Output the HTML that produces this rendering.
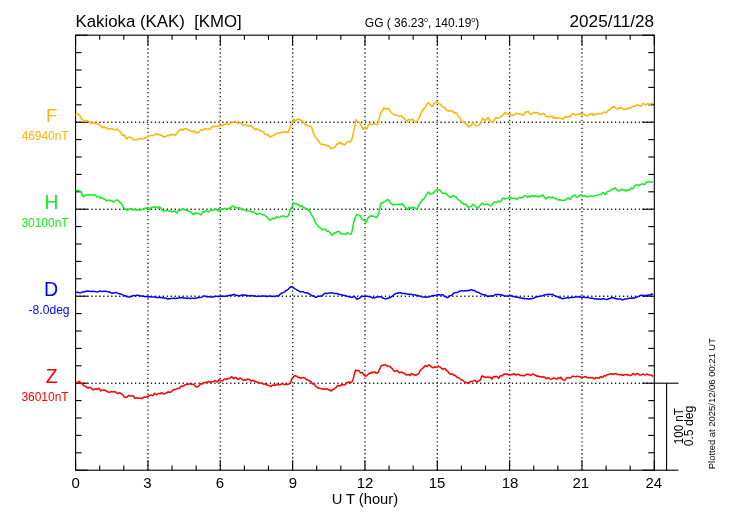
<!DOCTYPE html>
<html><head><meta charset="utf-8"><style>
html,body{margin:0;padding:0;background:#fff;width:730px;height:520px;overflow:hidden}
svg{display:block;will-change:transform}
text{font-family:"Liberation Sans", sans-serif}
.frame{fill:none;stroke:#000;stroke-width:1.1}
.tk{stroke:#000;stroke-width:1.1}
.dot{stroke:#262626;stroke-width:1.35;stroke-dasharray:1.35 2.618;stroke-dashoffset:2.742}
.doth{stroke:#262626;stroke-width:1.35;stroke-dasharray:1.35 2.617;stroke-dashoffset:0.183}
.crv{fill:none;stroke-width:1.5;stroke-linejoin:round}
</style></head><body>
<svg width="730" height="520" viewBox="0 0 730 520">
<rect width="730" height="520" fill="#fff"/>
<line x1="147.94" y1="35.2" x2="147.94" y2="470.19999999999993" class="dot"/>
<line x1="220.27" y1="35.2" x2="220.27" y2="470.19999999999993" class="dot"/>
<line x1="292.61" y1="35.2" x2="292.61" y2="470.19999999999993" class="dot"/>
<line x1="364.95" y1="35.2" x2="364.95" y2="470.19999999999993" class="dot"/>
<line x1="437.29" y1="35.2" x2="437.29" y2="470.19999999999993" class="dot"/>
<line x1="509.62" y1="35.2" x2="509.62" y2="470.19999999999993" class="dot"/>
<line x1="581.96" y1="35.2" x2="581.96" y2="470.19999999999993" class="dot"/>
<line x1="75.6" y1="122.20" x2="654.3" y2="122.20" class="doth"/>
<line x1="75.6" y1="209.20" x2="654.3" y2="209.20" class="doth"/>
<line x1="75.6" y1="296.20" x2="654.3" y2="296.20" class="doth"/>
<line x1="75.6" y1="383.20" x2="654.3" y2="383.20" class="doth"/>
<rect x="75.6" y="35.2" width="578.70" height="435.00" class="frame"/>
<line x1="75.6" y1="35.20" x2="87.6" y2="35.20" class="tk"/>
<line x1="654.3" y1="35.20" x2="642.3" y2="35.20" class="tk"/>
<line x1="75.6" y1="52.60" x2="81.6" y2="52.60" class="tk"/>
<line x1="654.3" y1="52.60" x2="648.3" y2="52.60" class="tk"/>
<line x1="75.6" y1="70.00" x2="81.6" y2="70.00" class="tk"/>
<line x1="654.3" y1="70.00" x2="648.3" y2="70.00" class="tk"/>
<line x1="75.6" y1="87.40" x2="81.6" y2="87.40" class="tk"/>
<line x1="654.3" y1="87.40" x2="648.3" y2="87.40" class="tk"/>
<line x1="75.6" y1="104.80" x2="81.6" y2="104.80" class="tk"/>
<line x1="654.3" y1="104.80" x2="648.3" y2="104.80" class="tk"/>
<line x1="75.6" y1="122.20" x2="87.6" y2="122.20" class="tk"/>
<line x1="654.3" y1="122.20" x2="642.3" y2="122.20" class="tk"/>
<line x1="75.6" y1="139.60" x2="81.6" y2="139.60" class="tk"/>
<line x1="654.3" y1="139.60" x2="648.3" y2="139.60" class="tk"/>
<line x1="75.6" y1="157.00" x2="81.6" y2="157.00" class="tk"/>
<line x1="654.3" y1="157.00" x2="648.3" y2="157.00" class="tk"/>
<line x1="75.6" y1="174.40" x2="81.6" y2="174.40" class="tk"/>
<line x1="654.3" y1="174.40" x2="648.3" y2="174.40" class="tk"/>
<line x1="75.6" y1="191.80" x2="81.6" y2="191.80" class="tk"/>
<line x1="654.3" y1="191.80" x2="648.3" y2="191.80" class="tk"/>
<line x1="75.6" y1="209.20" x2="87.6" y2="209.20" class="tk"/>
<line x1="654.3" y1="209.20" x2="642.3" y2="209.20" class="tk"/>
<line x1="75.6" y1="226.60" x2="81.6" y2="226.60" class="tk"/>
<line x1="654.3" y1="226.60" x2="648.3" y2="226.60" class="tk"/>
<line x1="75.6" y1="244.00" x2="81.6" y2="244.00" class="tk"/>
<line x1="654.3" y1="244.00" x2="648.3" y2="244.00" class="tk"/>
<line x1="75.6" y1="261.40" x2="81.6" y2="261.40" class="tk"/>
<line x1="654.3" y1="261.40" x2="648.3" y2="261.40" class="tk"/>
<line x1="75.6" y1="278.80" x2="81.6" y2="278.80" class="tk"/>
<line x1="654.3" y1="278.80" x2="648.3" y2="278.80" class="tk"/>
<line x1="75.6" y1="296.20" x2="87.6" y2="296.20" class="tk"/>
<line x1="654.3" y1="296.20" x2="642.3" y2="296.20" class="tk"/>
<line x1="75.6" y1="313.60" x2="81.6" y2="313.60" class="tk"/>
<line x1="654.3" y1="313.60" x2="648.3" y2="313.60" class="tk"/>
<line x1="75.6" y1="331.00" x2="81.6" y2="331.00" class="tk"/>
<line x1="654.3" y1="331.00" x2="648.3" y2="331.00" class="tk"/>
<line x1="75.6" y1="348.40" x2="81.6" y2="348.40" class="tk"/>
<line x1="654.3" y1="348.40" x2="648.3" y2="348.40" class="tk"/>
<line x1="75.6" y1="365.80" x2="81.6" y2="365.80" class="tk"/>
<line x1="654.3" y1="365.80" x2="648.3" y2="365.80" class="tk"/>
<line x1="75.6" y1="383.20" x2="87.6" y2="383.20" class="tk"/>
<line x1="654.3" y1="383.20" x2="642.3" y2="383.20" class="tk"/>
<line x1="75.6" y1="400.60" x2="81.6" y2="400.60" class="tk"/>
<line x1="654.3" y1="400.60" x2="648.3" y2="400.60" class="tk"/>
<line x1="75.6" y1="418.00" x2="81.6" y2="418.00" class="tk"/>
<line x1="654.3" y1="418.00" x2="648.3" y2="418.00" class="tk"/>
<line x1="75.6" y1="435.40" x2="81.6" y2="435.40" class="tk"/>
<line x1="654.3" y1="435.40" x2="648.3" y2="435.40" class="tk"/>
<line x1="75.6" y1="452.80" x2="81.6" y2="452.80" class="tk"/>
<line x1="654.3" y1="452.80" x2="648.3" y2="452.80" class="tk"/>
<line x1="75.6" y1="470.20" x2="87.6" y2="470.20" class="tk"/>
<line x1="654.3" y1="470.20" x2="642.3" y2="470.20" class="tk"/>
<line x1="75.60" y1="35.2" x2="75.60" y2="45.2" class="tk"/>
<line x1="75.60" y1="470.20" x2="75.60" y2="460.20" class="tk"/>
<line x1="99.71" y1="35.2" x2="99.71" y2="39.800000000000004" class="tk"/>
<line x1="99.71" y1="470.20" x2="99.71" y2="465.60" class="tk"/>
<line x1="123.82" y1="35.2" x2="123.82" y2="39.800000000000004" class="tk"/>
<line x1="123.82" y1="470.20" x2="123.82" y2="465.60" class="tk"/>
<line x1="147.94" y1="35.2" x2="147.94" y2="45.2" class="tk"/>
<line x1="147.94" y1="470.20" x2="147.94" y2="460.20" class="tk"/>
<line x1="172.05" y1="35.2" x2="172.05" y2="39.800000000000004" class="tk"/>
<line x1="172.05" y1="470.20" x2="172.05" y2="465.60" class="tk"/>
<line x1="196.16" y1="35.2" x2="196.16" y2="39.800000000000004" class="tk"/>
<line x1="196.16" y1="470.20" x2="196.16" y2="465.60" class="tk"/>
<line x1="220.27" y1="35.2" x2="220.27" y2="45.2" class="tk"/>
<line x1="220.27" y1="470.20" x2="220.27" y2="460.20" class="tk"/>
<line x1="244.39" y1="35.2" x2="244.39" y2="39.800000000000004" class="tk"/>
<line x1="244.39" y1="470.20" x2="244.39" y2="465.60" class="tk"/>
<line x1="268.50" y1="35.2" x2="268.50" y2="39.800000000000004" class="tk"/>
<line x1="268.50" y1="470.20" x2="268.50" y2="465.60" class="tk"/>
<line x1="292.61" y1="35.2" x2="292.61" y2="45.2" class="tk"/>
<line x1="292.61" y1="470.20" x2="292.61" y2="460.20" class="tk"/>
<line x1="316.72" y1="35.2" x2="316.72" y2="39.800000000000004" class="tk"/>
<line x1="316.72" y1="470.20" x2="316.72" y2="465.60" class="tk"/>
<line x1="340.84" y1="35.2" x2="340.84" y2="39.800000000000004" class="tk"/>
<line x1="340.84" y1="470.20" x2="340.84" y2="465.60" class="tk"/>
<line x1="364.95" y1="35.2" x2="364.95" y2="45.2" class="tk"/>
<line x1="364.95" y1="470.20" x2="364.95" y2="460.20" class="tk"/>
<line x1="389.06" y1="35.2" x2="389.06" y2="39.800000000000004" class="tk"/>
<line x1="389.06" y1="470.20" x2="389.06" y2="465.60" class="tk"/>
<line x1="413.17" y1="35.2" x2="413.17" y2="39.800000000000004" class="tk"/>
<line x1="413.17" y1="470.20" x2="413.17" y2="465.60" class="tk"/>
<line x1="437.29" y1="35.2" x2="437.29" y2="45.2" class="tk"/>
<line x1="437.29" y1="470.20" x2="437.29" y2="460.20" class="tk"/>
<line x1="461.40" y1="35.2" x2="461.40" y2="39.800000000000004" class="tk"/>
<line x1="461.40" y1="470.20" x2="461.40" y2="465.60" class="tk"/>
<line x1="485.51" y1="35.2" x2="485.51" y2="39.800000000000004" class="tk"/>
<line x1="485.51" y1="470.20" x2="485.51" y2="465.60" class="tk"/>
<line x1="509.62" y1="35.2" x2="509.62" y2="45.2" class="tk"/>
<line x1="509.62" y1="470.20" x2="509.62" y2="460.20" class="tk"/>
<line x1="533.74" y1="35.2" x2="533.74" y2="39.800000000000004" class="tk"/>
<line x1="533.74" y1="470.20" x2="533.74" y2="465.60" class="tk"/>
<line x1="557.85" y1="35.2" x2="557.85" y2="39.800000000000004" class="tk"/>
<line x1="557.85" y1="470.20" x2="557.85" y2="465.60" class="tk"/>
<line x1="581.96" y1="35.2" x2="581.96" y2="45.2" class="tk"/>
<line x1="581.96" y1="470.20" x2="581.96" y2="460.20" class="tk"/>
<line x1="606.07" y1="35.2" x2="606.07" y2="39.800000000000004" class="tk"/>
<line x1="606.07" y1="470.20" x2="606.07" y2="465.60" class="tk"/>
<line x1="630.19" y1="35.2" x2="630.19" y2="39.800000000000004" class="tk"/>
<line x1="630.19" y1="470.20" x2="630.19" y2="465.60" class="tk"/>
<line x1="654.30" y1="35.2" x2="654.30" y2="45.2" class="tk"/>
<line x1="654.30" y1="470.20" x2="654.30" y2="460.20" class="tk"/>
<line x1="654.3" y1="383.20" x2="678.5" y2="383.20" class="tk"/>
<line x1="654.3" y1="470.20" x2="678.5" y2="470.20" class="tk"/>
<line x1="666.6" y1="383.20" x2="666.6" y2="470.20" class="tk"/>
<path d="M75.3 115.2 L76.0 114.8 L76.7 114.1 L77.4 114.5 L78.1 114.2 L78.8 114.8 L79.5 115.0 L80.2 116.8 L80.9 117.6 L81.6 119.6 L82.3 119.9 L83.0 120.0 L83.7 120.0 L84.4 121.4 L85.1 121.2 L85.8 121.0 L86.5 120.4 L87.2 120.6 L87.9 121.0 L88.6 121.3 L89.3 121.7 L90.0 122.3 L90.7 123.1 L91.4 123.2 L92.1 123.0 L92.8 122.8 L93.5 122.5 L94.2 122.7 L94.9 123.1 L95.6 123.5 L96.3 123.5 L97.0 123.4 L97.7 123.7 L98.4 124.0 L99.1 124.6 L99.8 125.0 L100.5 125.6 L101.2 126.6 L101.9 127.7 L102.6 127.8 L103.3 127.0 L104.0 126.7 L104.7 127.4 L105.4 128.0 L106.1 128.0 L106.8 127.6 L107.5 128.5 L108.2 129.1 L108.9 129.3 L109.6 129.0 L110.3 129.1 L111.0 128.7 L111.7 128.6 L112.4 128.9 L113.1 129.4 L113.8 129.7 L114.5 129.9 L115.2 129.7 L115.9 129.6 L116.6 129.0 L117.3 129.1 L118.0 129.9 L118.7 130.7 L119.4 131.1 L120.1 131.7 L120.8 132.8 L121.5 133.9 L122.2 135.4 L122.9 135.4 L123.6 134.9 L124.3 134.9 L125.0 136.2 L125.7 137.7 L126.4 138.7 L127.1 138.8 L127.8 137.4 L128.5 137.0 L129.2 137.0 L129.9 137.3 L130.6 137.5 L131.3 137.8 L132.0 138.2 L132.7 139.0 L133.4 139.6 L134.1 140.1 L134.8 140.0 L135.5 139.6 L136.2 139.4 L136.9 139.5 L137.6 139.5 L138.3 139.5 L139.0 139.0 L139.7 138.5 L140.4 138.6 L141.1 138.9 L141.8 139.0 L142.5 138.9 L143.2 138.4 L143.9 138.3 L144.6 137.8 L145.3 137.9 L146.0 137.5 L146.7 137.3 L147.4 136.2 L148.1 135.9 L148.8 136.0 L149.5 136.0 L150.2 135.7 L150.9 135.5 L151.6 135.4 L152.3 135.4 L153.0 135.6 L153.7 135.5 L154.4 135.1 L155.1 134.3 L155.8 134.1 L156.5 133.6 L157.2 134.2 L157.9 134.6 L158.6 135.0 L159.3 134.4 L160.0 134.6 L160.7 135.4 L161.4 135.5 L162.1 135.5 L162.8 136.1 L163.5 137.2 L164.2 136.8 L164.9 136.8 L165.6 136.6 L166.3 136.4 L167.0 135.5 L167.7 135.4 L168.4 135.7 L169.1 135.6 L169.8 135.2 L170.5 134.5 L171.2 134.7 L171.9 134.7 L172.6 134.9 L173.3 134.5 L174.0 134.8 L174.7 135.1 L175.4 135.2 L176.1 134.3 L176.8 133.2 L177.5 132.3 L178.2 131.5 L178.9 130.8 L179.6 130.3 L180.3 129.2 L181.0 128.9 L181.7 129.7 L182.4 130.5 L183.1 129.7 L183.8 128.8 L184.5 128.8 L185.2 129.1 L185.9 129.0 L186.6 129.0 L187.3 129.0 L188.0 129.6 L188.7 130.0 L189.4 130.5 L190.1 130.6 L190.8 131.0 L191.5 131.2 L192.2 131.9 L192.9 131.4 L193.6 130.8 L194.3 130.7 L195.0 132.4 L195.7 132.9 L196.4 132.6 L197.1 132.0 L197.8 132.7 L198.5 132.6 L199.2 132.1 L199.9 131.1 L200.6 130.1 L201.3 129.6 L202.0 129.7 L202.7 130.2 L203.4 129.9 L204.1 129.1 L204.8 128.6 L205.5 128.8 L206.2 129.0 L206.9 128.9 L207.6 129.1 L208.3 129.2 L209.0 129.3 L209.7 129.1 L210.4 128.8 L211.1 127.4 L211.8 126.7 L212.5 126.5 L213.2 126.9 L213.9 126.8 L214.6 126.3 L215.3 125.9 L216.0 125.7 L216.7 126.6 L217.4 126.6 L218.1 126.3 L218.8 125.5 L219.5 125.3 L220.2 125.2 L220.9 125.8 L221.6 125.9 L222.3 125.3 L223.0 124.6 L223.7 124.6 L224.4 124.3 L225.1 124.0 L225.8 124.4 L226.5 124.5 L227.2 124.4 L227.9 124.2 L228.6 124.4 L229.3 123.9 L230.0 123.9 L230.7 123.2 L231.4 122.2 L232.1 122.1 L232.8 122.3 L233.5 122.4 L234.2 121.5 L234.9 121.6 L235.6 121.8 L236.3 122.2 L237.0 122.5 L237.7 123.2 L238.4 123.5 L239.1 123.0 L239.8 122.4 L240.5 122.8 L241.2 123.2 L241.9 124.2 L242.6 125.1 L243.3 125.4 L244.0 125.1 L244.7 124.9 L245.4 124.6 L246.1 124.8 L246.8 125.6 L247.5 125.7 L248.2 126.0 L248.9 125.8 L249.6 125.8 L250.3 125.6 L251.0 125.4 L251.7 126.2 L252.4 127.1 L253.1 127.9 L253.8 128.2 L254.5 129.0 L255.2 129.7 L255.9 129.3 L256.6 129.4 L257.3 129.0 L258.0 129.4 L258.7 129.7 L259.4 130.2 L260.1 130.5 L260.8 131.0 L261.5 131.4 L262.2 131.6 L262.9 131.8 L263.6 132.3 L264.3 133.3 L265.0 134.3 L265.7 134.8 L266.4 134.6 L267.1 134.4 L267.8 134.3 L268.5 135.3 L269.2 136.1 L269.9 136.9 L270.6 136.6 L271.3 136.4 L272.0 135.7 L272.7 135.9 L273.4 135.7 L274.1 135.2 L274.8 134.6 L275.5 134.2 L276.2 133.7 L276.9 133.4 L277.6 133.2 L278.3 133.3 L279.0 133.3 L279.7 133.0 L280.4 132.7 L281.1 132.3 L281.8 132.4 L282.5 132.5 L283.2 132.1 L283.9 131.7 L284.6 132.1 L285.3 132.4 L286.0 132.0 L286.7 131.5 L287.4 132.2 L288.1 132.4 L288.8 130.9 L289.5 128.7 L290.2 126.4 L290.9 124.7 L291.6 123.6 L292.3 122.1 L293.0 121.0 L293.7 119.3 L294.4 120.0 L295.1 120.4 L295.8 120.7 L296.5 119.9 L297.2 119.5 L297.9 119.2 L298.6 119.3 L299.3 119.5 L300.0 119.9 L300.7 119.9 L301.4 120.4 L302.1 121.1 L302.8 121.8 L303.5 122.4 L304.2 122.9 L304.9 124.0 L305.6 124.5 L306.3 125.4 L307.0 125.2 L307.7 125.2 L308.4 125.8 L309.1 126.5 L309.8 126.1 L310.5 126.1 L311.2 127.1 L311.9 128.4 L312.6 130.1 L313.3 132.7 L314.0 134.6 L314.7 135.9 L315.4 136.9 L316.1 137.9 L316.8 138.7 L317.5 139.6 L318.2 140.6 L318.9 141.3 L319.6 142.4 L320.3 143.7 L321.0 144.3 L321.7 144.4 L322.4 144.3 L323.1 144.4 L323.8 144.5 L324.5 145.0 L325.2 145.1 L325.9 145.0 L326.6 145.1 L327.3 145.7 L328.0 145.7 L328.7 146.2 L329.4 146.6 L330.1 147.9 L330.8 148.5 L331.5 148.3 L332.2 147.9 L332.9 147.7 L333.6 148.0 L334.3 147.2 L335.0 146.8 L335.7 145.7 L336.4 145.1 L337.1 144.0 L337.8 143.8 L338.5 143.4 L339.2 142.6 L339.9 142.3 L340.6 143.3 L341.3 144.2 L342.0 143.8 L342.7 143.6 L343.4 144.2 L344.1 145.1 L344.8 144.7 L345.5 143.9 L346.2 143.1 L346.9 142.3 L347.6 141.4 L348.3 141.6 L349.0 141.8 L349.7 141.9 L350.4 141.0 L351.1 141.1 L351.8 139.5 L352.5 136.5 L353.2 133.1 L353.9 130.9 L354.6 127.1 L355.3 123.4 L356.0 119.6 L356.7 121.1 L357.4 121.8 L358.1 122.2 L358.8 122.0 L359.5 122.4 L360.2 123.5 L360.9 125.4 L361.6 126.5 L362.3 127.7 L363.0 128.9 L363.7 129.4 L364.4 128.2 L365.1 127.3 L365.8 127.5 L366.5 128.8 L367.2 128.1 L367.9 126.2 L368.6 124.1 L369.3 124.2 L370.0 124.7 L370.7 124.2 L371.4 124.2 L372.1 124.5 L372.8 124.2 L373.5 123.6 L374.2 123.7 L374.9 123.7 L375.6 123.9 L376.3 124.4 L377.0 124.8 L377.7 124.3 L378.4 122.0 L379.1 118.8 L379.8 115.7 L380.5 113.2 L381.2 112.3 L381.9 111.5 L382.6 110.3 L383.3 109.1 L384.0 107.9 L384.7 108.2 L385.4 108.8 L386.1 109.0 L386.8 108.4 L387.5 108.6 L388.2 108.5 L388.9 109.4 L389.6 110.0 L390.3 111.1 L391.0 112.0 L391.7 112.8 L392.4 113.5 L393.1 114.1 L393.8 114.5 L394.5 114.6 L395.2 115.1 L395.9 115.2 L396.6 115.2 L397.3 115.3 L398.0 115.8 L398.7 116.2 L399.4 116.3 L400.1 115.8 L400.8 115.7 L401.5 116.2 L402.2 117.2 L402.9 117.6 L403.6 118.0 L404.3 118.6 L405.0 119.5 L405.7 120.6 L406.4 121.5 L407.1 121.3 L407.8 120.0 L408.5 119.4 L409.2 119.6 L409.9 120.0 L410.6 120.2 L411.3 119.7 L412.0 119.4 L412.7 119.3 L413.4 120.2 L414.1 120.9 L414.8 121.3 L415.5 121.7 L416.2 122.1 L416.9 121.7 L417.6 120.5 L418.3 119.1 L419.0 118.0 L419.7 116.7 L420.4 114.7 L421.1 113.0 L421.8 111.7 L422.5 110.5 L423.2 109.4 L423.9 108.6 L424.6 108.1 L425.3 107.1 L426.0 105.8 L426.7 104.8 L427.4 103.5 L428.1 102.8 L428.8 103.3 L429.5 104.0 L430.2 104.4 L430.9 105.3 L431.6 106.5 L432.3 106.5 L433.0 105.5 L433.7 103.9 L434.4 103.2 L435.1 102.5 L435.8 102.3 L436.5 102.2 L437.2 102.5 L437.9 102.9 L438.6 103.5 L439.3 103.9 L440.0 104.0 L440.7 104.8 L441.4 106.0 L442.1 106.6 L442.8 106.9 L443.5 106.9 L444.2 107.2 L444.9 107.8 L445.6 109.4 L446.3 109.9 L447.0 110.0 L447.7 110.6 L448.4 111.3 L449.1 111.0 L449.8 110.8 L450.5 110.6 L451.2 110.4 L451.9 110.8 L452.6 111.5 L453.3 112.3 L454.0 112.3 L454.7 113.2 L455.4 113.3 L456.1 113.2 L456.8 113.1 L457.5 114.5 L458.2 116.0 L458.9 117.1 L459.6 117.8 L460.3 118.4 L461.0 120.3 L461.7 120.8 L462.4 121.2 L463.1 121.5 L463.8 122.2 L464.5 122.7 L465.2 123.0 L465.9 123.6 L466.6 124.2 L467.3 125.2 L468.0 126.1 L468.7 126.9 L469.4 125.8 L470.1 125.8 L470.8 125.8 L471.5 125.5 L472.2 123.3 L472.9 122.4 L473.6 122.8 L474.3 123.8 L475.0 124.4 L475.7 125.4 L476.4 125.8 L477.1 126.0 L477.8 125.4 L478.5 125.1 L479.2 124.6 L479.9 123.8 L480.6 123.0 L481.3 121.7 L482.0 119.7 L482.7 118.1 L483.4 119.1 L484.1 119.9 L484.8 120.6 L485.5 120.3 L486.2 119.8 L486.9 118.4 L487.6 118.0 L488.3 117.8 L489.0 119.0 L489.7 120.2 L490.4 120.9 L491.1 121.5 L491.8 121.8 L492.5 122.5 L493.2 121.4 L493.9 120.7 L494.6 119.4 L495.3 118.7 L496.0 117.5 L496.7 118.0 L497.4 117.8 L498.1 118.3 L498.8 118.2 L499.5 117.9 L500.2 116.9 L500.9 116.3 L501.6 116.0 L502.3 115.8 L503.0 114.9 L503.7 114.2 L504.4 113.2 L505.1 112.5 L505.8 113.2 L506.5 113.7 L507.2 114.0 L507.9 113.6 L508.6 114.0 L509.3 113.5 L510.0 114.0 L510.7 114.3 L511.4 115.2 L512.1 115.2 L512.8 115.5 L513.5 115.2 L514.2 115.0 L514.9 114.2 L515.6 113.4 L516.3 113.2 L517.0 113.5 L517.7 113.8 L518.4 113.7 L519.1 114.0 L519.8 114.1 L520.5 114.4 L521.2 114.3 L521.9 114.4 L522.6 114.8 L523.3 115.3 L524.0 114.3 L524.7 113.2 L525.4 112.0 L526.1 112.3 L526.8 111.8 L527.5 111.6 L528.2 111.4 L528.9 112.1 L529.6 113.0 L530.3 113.7 L531.0 114.2 L531.7 114.1 L532.4 113.6 L533.1 112.7 L533.8 112.5 L534.5 112.6 L535.2 112.9 L535.9 112.5 L536.6 112.8 L537.3 112.5 L538.0 112.9 L538.7 113.3 L539.4 114.7 L540.1 114.6 L540.8 114.5 L541.5 114.4 L542.2 114.2 L542.9 113.9 L543.6 113.2 L544.3 113.9 L545.0 114.7 L545.7 116.2 L546.4 116.5 L547.1 116.5 L547.8 116.5 L548.5 116.7 L549.2 116.6 L549.9 116.7 L550.6 116.8 L551.3 116.5 L552.0 116.0 L552.7 116.8 L553.4 118.2 L554.1 118.3 L554.8 117.5 L555.5 117.5 L556.2 118.4 L556.9 118.4 L557.6 117.9 L558.3 117.6 L559.0 117.6 L559.7 118.0 L560.4 118.1 L561.1 118.3 L561.8 118.6 L562.5 119.3 L563.2 118.9 L563.9 117.8 L564.6 116.8 L565.3 117.0 L566.0 116.9 L566.7 117.3 L567.4 117.1 L568.1 117.0 L568.8 116.3 L569.5 116.8 L570.2 116.6 L570.9 115.8 L571.6 114.6 L572.3 113.6 L573.0 113.4 L573.7 113.8 L574.4 114.6 L575.1 115.0 L575.8 115.0 L576.5 114.9 L577.2 114.7 L577.9 114.6 L578.6 113.7 L579.3 113.7 L580.0 113.8 L580.7 114.3 L581.4 113.7 L582.1 113.8 L582.8 114.0 L583.5 114.4 L584.2 114.3 L584.9 114.6 L585.6 115.1 L586.3 115.4 L587.0 116.0 L587.7 115.9 L588.4 115.2 L589.1 114.1 L589.8 114.4 L590.5 114.6 L591.2 114.0 L591.9 113.4 L592.6 113.9 L593.3 115.3 L594.0 115.1 L594.7 114.5 L595.4 114.1 L596.1 114.2 L596.8 114.3 L597.5 114.2 L598.2 114.2 L598.9 113.7 L599.6 113.8 L600.3 113.7 L601.0 113.9 L601.7 113.2 L602.4 112.9 L603.1 112.5 L603.8 112.3 L604.5 111.9 L605.2 112.2 L605.9 112.5 L606.6 112.6 L607.3 111.8 L608.0 110.6 L608.7 110.1 L609.4 110.3 L610.1 109.4 L610.8 108.4 L611.5 108.1 L612.2 107.6 L612.9 106.7 L613.6 106.5 L614.3 107.0 L615.0 107.3 L615.7 108.0 L616.4 108.6 L617.1 109.0 L617.8 108.7 L618.5 108.0 L619.2 108.1 L619.9 107.8 L620.6 108.0 L621.3 107.7 L622.0 108.2 L622.7 108.5 L623.4 109.6 L624.1 109.5 L624.8 109.1 L625.5 109.2 L626.2 109.3 L626.9 109.4 L627.6 108.6 L628.3 108.2 L629.0 108.0 L629.7 108.3 L630.4 108.1 L631.1 107.4 L631.8 107.2 L632.5 106.6 L633.2 106.7 L633.9 106.1 L634.6 106.2 L635.3 106.0 L636.0 105.6 L636.7 105.1 L637.4 105.0 L638.1 105.3 L638.8 105.2 L639.5 105.7 L640.2 106.1 L640.9 106.3 L641.6 105.3 L642.3 104.4 L643.0 103.6 L643.7 103.4 L644.4 104.3 L645.1 104.7 L645.8 105.0 L646.5 104.3 L647.2 104.0 L647.9 103.6 L648.6 103.8 L649.3 104.3 L650.0 104.4 L650.7 104.0 L651.4 103.5 L652.1 103.5 L652.8 103.9" stroke="#ffb400" class="crv"/>
<path d="M75.6 190.9 L76.3 190.3 L77.0 190.7 L77.7 190.6 L78.4 190.6 L79.1 190.4 L79.8 191.2 L80.5 191.7 L81.2 192.2 L81.9 193.6 L82.6 195.6 L83.3 196.9 L84.0 196.2 L84.7 195.3 L85.4 195.1 L86.1 195.1 L86.8 195.1 L87.5 195.0 L88.2 194.9 L88.9 194.4 L89.6 194.6 L90.3 194.9 L91.0 195.0 L91.7 194.9 L92.4 195.0 L93.1 195.2 L93.8 195.1 L94.5 194.8 L95.2 195.1 L95.9 195.7 L96.6 196.9 L97.3 196.6 L98.0 196.5 L98.7 196.4 L99.4 197.7 L100.1 198.1 L100.8 197.8 L101.5 197.5 L102.2 197.9 L102.9 198.5 L103.6 198.9 L104.3 198.7 L105.0 199.4 L105.7 200.3 L106.4 200.8 L107.1 200.5 L107.8 200.3 L108.5 200.2 L109.2 200.1 L109.9 200.6 L110.6 201.1 L111.3 201.0 L112.0 200.9 L112.7 201.5 L113.4 202.0 L114.1 201.7 L114.8 201.3 L115.5 200.9 L116.2 200.2 L116.9 199.9 L117.6 200.1 L118.3 200.9 L119.0 201.5 L119.7 201.9 L120.4 202.7 L121.1 203.5 L121.8 204.5 L122.5 205.5 L123.2 207.0 L123.9 208.1 L124.6 208.9 L125.3 209.2 L126.0 209.7 L126.7 209.6 L127.4 210.3 L128.1 209.5 L128.8 209.2 L129.5 209.0 L130.2 209.1 L130.9 208.6 L131.6 208.5 L132.3 209.4 L133.0 210.0 L133.7 210.0 L134.4 209.2 L135.1 209.2 L135.8 210.0 L136.5 210.3 L137.2 209.8 L137.9 209.6 L138.6 209.9 L139.3 209.9 L140.0 210.2 L140.7 209.6 L141.4 209.4 L142.1 209.2 L142.8 209.5 L143.5 209.3 L144.2 208.4 L144.9 208.3 L145.6 208.3 L146.3 208.4 L147.0 207.8 L147.7 207.6 L148.4 208.6 L149.1 209.3 L149.8 209.4 L150.5 208.3 L151.2 207.4 L151.9 207.2 L152.6 207.2 L153.3 207.0 L154.0 206.9 L154.7 207.0 L155.4 207.2 L156.1 207.1 L156.8 206.9 L157.5 207.8 L158.2 207.9 L158.9 207.5 L159.6 206.9 L160.3 207.6 L161.0 208.5 L161.7 209.2 L162.4 210.3 L163.1 211.0 L163.8 210.9 L164.5 211.0 L165.2 210.5 L165.9 210.5 L166.6 210.2 L167.3 210.4 L168.0 210.6 L168.7 210.9 L169.4 211.5 L170.1 211.1 L170.8 211.2 L171.5 211.5 L172.2 212.1 L172.9 211.6 L173.6 211.4 L174.3 211.2 L175.0 211.0 L175.7 212.1 L176.4 212.8 L177.1 213.2 L177.8 211.6 L178.5 210.8 L179.2 210.2 L179.9 210.5 L180.6 210.2 L181.3 209.8 L182.0 208.9 L182.7 208.8 L183.4 209.2 L184.1 210.0 L184.8 209.8 L185.5 210.0 L186.2 210.2 L186.9 210.2 L187.6 210.4 L188.3 211.1 L189.0 211.3 L189.7 211.2 L190.4 211.9 L191.1 212.6 L191.8 212.9 L192.5 214.1 L193.2 214.7 L193.9 214.8 L194.6 213.1 L195.3 212.8 L196.0 212.9 L196.7 213.6 L197.4 213.3 L198.1 213.3 L198.8 213.7 L199.5 213.9 L200.2 214.4 L200.9 214.9 L201.6 214.3 L202.3 212.8 L203.0 211.5 L203.7 211.5 L204.4 211.9 L205.1 211.3 L205.8 210.7 L206.5 210.7 L207.2 211.4 L207.9 211.8 L208.6 211.9 L209.3 211.1 L210.0 210.2 L210.7 209.5 L211.4 210.1 L212.1 210.5 L212.8 210.6 L213.5 210.2 L214.2 209.9 L214.9 209.2 L215.6 208.8 L216.3 209.1 L217.0 210.1 L217.7 210.8 L218.4 210.6 L219.1 210.3 L219.8 210.5 L220.5 210.3 L221.2 209.7 L221.9 208.9 L222.6 208.9 L223.3 208.9 L224.0 208.8 L224.7 208.3 L225.4 208.5 L226.1 208.7 L226.8 208.9 L227.5 209.0 L228.2 208.7 L228.9 208.0 L229.6 208.1 L230.3 208.3 L231.0 207.6 L231.7 206.5 L232.4 205.8 L233.1 206.2 L233.8 206.7 L234.5 207.5 L235.2 207.6 L235.9 207.7 L236.6 207.8 L237.3 207.9 L238.0 207.9 L238.7 207.7 L239.4 207.9 L240.1 207.8 L240.8 208.9 L241.5 209.3 L242.2 209.9 L242.9 209.4 L243.6 209.5 L244.3 209.7 L245.0 210.2 L245.7 210.7 L246.4 210.9 L247.1 210.9 L247.8 210.9 L248.5 211.0 L249.2 211.1 L249.9 211.1 L250.6 211.3 L251.3 211.8 L252.0 212.1 L252.7 211.5 L253.4 211.5 L254.1 212.0 L254.8 213.0 L255.5 213.3 L256.2 214.0 L256.9 214.3 L257.6 214.4 L258.3 213.8 L259.0 213.5 L259.7 213.3 L260.4 213.5 L261.1 213.9 L261.8 214.1 L262.5 214.7 L263.2 214.8 L263.9 214.8 L264.6 215.1 L265.3 215.7 L266.0 216.4 L266.7 216.9 L267.4 217.4 L268.1 218.3 L268.8 219.4 L269.5 220.1 L270.2 219.9 L270.9 220.0 L271.6 219.4 L272.3 218.5 L273.0 218.0 L273.7 218.6 L274.4 218.8 L275.1 218.4 L275.8 217.6 L276.5 216.8 L277.2 216.8 L277.9 217.5 L278.6 217.5 L279.3 217.5 L280.0 217.1 L280.7 216.7 L281.4 216.2 L282.1 216.2 L282.8 216.0 L283.5 215.9 L284.2 216.2 L284.9 216.7 L285.6 217.1 L286.3 217.0 L287.0 216.4 L287.7 216.4 L288.4 215.3 L289.1 213.4 L289.8 211.5 L290.5 210.1 L291.2 208.6 L291.9 207.0 L292.6 204.8 L293.3 202.9 L294.0 203.0 L294.7 203.6 L295.4 203.9 L296.1 203.8 L296.8 204.1 L297.5 204.6 L298.2 204.5 L298.9 204.6 L299.6 205.8 L300.3 206.8 L301.0 206.2 L301.7 205.4 L302.4 206.2 L303.1 207.6 L303.8 207.9 L304.5 207.8 L305.2 208.1 L305.9 208.9 L306.6 208.9 L307.3 209.0 L308.0 209.4 L308.7 210.7 L309.4 211.0 L310.1 211.8 L310.8 213.0 L311.5 214.6 L312.2 215.8 L312.9 216.9 L313.6 218.1 L314.3 219.8 L315.0 221.5 L315.7 223.1 L316.4 224.0 L317.1 224.9 L317.8 225.9 L318.5 226.8 L319.2 227.4 L319.9 227.6 L320.6 228.0 L321.3 228.7 L322.0 229.4 L322.7 230.0 L323.4 229.6 L324.1 229.1 L324.8 228.9 L325.5 229.2 L326.2 230.5 L326.9 231.4 L327.6 231.5 L328.3 231.0 L329.0 231.3 L329.7 232.4 L330.4 233.2 L331.1 234.3 L331.8 235.4 L332.5 235.0 L333.2 233.9 L333.9 233.2 L334.6 233.0 L335.3 233.2 L336.0 232.6 L336.7 232.2 L337.4 231.5 L338.1 231.5 L338.8 231.4 L339.5 231.7 L340.2 232.9 L340.9 233.8 L341.6 233.8 L342.3 233.6 L343.0 233.9 L343.7 234.0 L344.4 234.2 L345.1 234.4 L345.8 234.4 L346.5 233.4 L347.2 232.6 L347.9 232.9 L348.6 233.5 L349.3 233.5 L350.0 233.7 L350.7 234.0 L351.4 233.9 L352.1 230.7 L352.8 226.9 L353.5 223.4 L354.2 220.8 L354.9 218.5 L355.6 216.7 L356.3 214.7 L357.0 214.5 L357.7 214.8 L358.4 214.9 L359.1 215.1 L359.8 215.3 L360.5 216.9 L361.2 217.9 L361.9 219.1 L362.6 219.6 L363.3 220.3 L364.0 220.2 L364.7 221.0 L365.4 221.4 L366.1 222.1 L366.8 221.1 L367.5 219.3 L368.2 217.6 L368.9 216.9 L369.6 216.9 L370.3 216.2 L371.0 215.6 L371.7 216.1 L372.4 216.2 L373.1 216.0 L373.8 216.2 L374.5 216.8 L375.2 217.4 L375.9 217.5 L376.6 217.3 L377.3 216.6 L378.0 215.6 L378.7 213.0 L379.4 209.9 L380.1 206.6 L380.8 203.5 L381.5 202.7 L382.2 202.9 L382.9 202.8 L383.6 202.1 L384.3 201.7 L385.0 201.4 L385.7 201.0 L386.4 200.4 L387.1 199.8 L387.8 199.7 L388.5 199.9 L389.2 200.8 L389.9 202.6 L390.6 203.4 L391.3 203.7 L392.0 203.9 L392.7 204.9 L393.4 205.0 L394.1 204.7 L394.8 204.4 L395.5 204.6 L396.2 204.7 L396.9 204.5 L397.6 204.0 L398.3 204.5 L399.0 204.2 L399.7 204.7 L400.4 204.5 L401.1 204.4 L401.8 203.6 L402.5 204.0 L403.2 205.0 L403.9 205.9 L404.6 206.6 L405.3 207.3 L406.0 208.4 L406.7 209.2 L407.4 209.3 L408.1 208.7 L408.8 207.5 L409.5 207.1 L410.2 207.8 L410.9 208.4 L411.6 207.8 L412.3 207.1 L413.0 207.2 L413.7 207.7 L414.4 208.1 L415.1 207.9 L415.8 208.3 L416.5 208.2 L417.2 208.9 L417.9 207.5 L418.6 205.7 L419.3 203.7 L420.0 203.1 L420.7 202.3 L421.4 201.2 L422.1 200.2 L422.8 199.4 L423.5 198.7 L424.2 198.5 L424.9 197.8 L425.6 196.1 L426.3 194.7 L427.0 193.9 L427.7 192.8 L428.4 192.1 L429.1 192.3 L429.8 193.6 L430.5 194.3 L431.2 194.2 L431.9 193.8 L432.6 193.1 L433.3 193.2 L434.0 192.5 L434.7 191.3 L435.4 190.2 L436.1 189.9 L436.8 190.1 L437.5 189.9 L438.2 189.6 L438.9 189.7 L439.6 190.2 L440.3 190.7 L441.0 191.2 L441.7 192.6 L442.4 193.1 L443.1 193.5 L443.8 192.9 L444.5 193.2 L445.2 193.1 L445.9 194.0 L446.6 194.3 L447.3 194.9 L448.0 195.6 L448.7 196.0 L449.4 196.4 L450.1 197.3 L450.8 197.5 L451.5 197.0 L452.2 195.9 L452.9 195.3 L453.6 195.7 L454.3 196.3 L455.0 196.7 L455.7 196.4 L456.4 197.3 L457.1 198.4 L457.8 199.6 L458.5 200.1 L459.2 200.1 L459.9 200.3 L460.6 201.6 L461.3 202.8 L462.0 202.9 L462.7 203.0 L463.4 204.0 L464.1 204.4 L464.8 204.2 L465.5 203.9 L466.2 204.5 L466.9 205.5 L467.6 206.5 L468.3 207.5 L469.0 207.3 L469.7 206.5 L470.4 206.8 L471.1 206.8 L471.8 206.0 L472.5 204.4 L473.2 204.2 L473.9 205.1 L474.6 205.7 L475.3 206.1 L476.0 206.6 L476.7 207.6 L477.4 208.2 L478.1 208.0 L478.8 206.9 L479.5 205.8 L480.2 205.2 L480.9 204.6 L481.6 203.9 L482.3 203.4 L483.0 203.3 L483.7 204.2 L484.4 204.5 L485.1 204.7 L485.8 204.3 L486.5 204.3 L487.2 204.2 L487.9 204.3 L488.6 204.7 L489.3 205.1 L490.0 205.6 L490.7 206.0 L491.4 205.5 L492.1 204.5 L492.8 203.6 L493.5 203.0 L494.2 202.1 L494.9 201.9 L495.6 202.4 L496.3 202.8 L497.0 202.2 L497.7 201.7 L498.4 201.1 L499.1 201.5 L499.8 201.6 L500.5 201.7 L501.2 200.8 L501.9 199.3 L502.6 198.3 L503.3 198.3 L504.0 198.8 L504.7 199.0 L505.4 198.8 L506.1 198.4 L506.8 198.3 L507.5 198.5 L508.2 198.3 L508.9 197.4 L509.6 196.9 L510.3 197.3 L511.0 198.2 L511.7 198.6 L512.4 198.3 L513.1 198.2 L513.8 198.2 L514.5 198.5 L515.2 198.6 L515.9 198.7 L516.6 199.0 L517.3 199.4 L518.0 198.6 L518.7 197.8 L519.4 197.4 L520.1 197.9 L520.8 197.5 L521.5 197.8 L522.2 197.6 L522.9 197.6 L523.6 196.3 L524.3 195.9 L525.0 195.6 L525.7 195.9 L526.4 196.1 L527.1 197.0 L527.8 197.2 L528.5 196.3 L529.2 196.1 L529.9 196.8 L530.6 196.8 L531.3 195.7 L532.0 195.7 L532.7 196.0 L533.4 196.8 L534.1 196.5 L534.8 196.2 L535.5 195.7 L536.2 196.0 L536.9 196.4 L537.6 196.9 L538.3 196.8 L539.0 196.3 L539.7 196.0 L540.4 196.3 L541.1 196.2 L541.8 195.6 L542.5 194.9 L543.2 195.1 L543.9 196.4 L544.6 197.6 L545.3 198.6 L546.0 198.9 L546.7 198.1 L547.4 197.6 L548.1 197.3 L548.8 197.1 L549.5 197.0 L550.2 197.4 L550.9 198.0 L551.6 197.8 L552.3 197.1 L553.0 197.1 L553.7 197.6 L554.4 198.6 L555.1 198.6 L555.8 198.9 L556.5 198.4 L557.2 199.3 L557.9 199.8 L558.6 200.2 L559.3 199.5 L560.0 199.6 L560.7 200.0 L561.4 200.4 L562.1 200.5 L562.8 200.6 L563.5 200.2 L564.2 200.0 L564.9 200.2 L565.6 200.0 L566.3 199.2 L567.0 198.6 L567.7 198.2 L568.4 197.9 L569.1 198.6 L569.8 199.5 L570.5 199.0 L571.2 197.9 L571.9 196.9 L572.6 196.2 L573.3 195.9 L574.0 195.3 L574.7 195.2 L575.4 195.5 L576.1 196.8 L576.8 197.2 L577.5 197.0 L578.2 196.2 L578.9 196.0 L579.6 195.8 L580.3 195.1 L581.0 194.7 L581.7 195.1 L582.4 195.9 L583.1 195.9 L583.8 195.7 L584.5 195.6 L585.2 196.0 L585.9 196.5 L586.6 196.7 L587.3 196.7 L588.0 196.4 L588.7 196.6 L589.4 196.6 L590.1 196.4 L590.8 195.9 L591.5 196.1 L592.2 196.2 L592.9 196.3 L593.6 196.2 L594.3 196.3 L595.0 195.7 L595.7 195.5 L596.4 195.5 L597.1 195.5 L597.8 195.1 L598.5 194.5 L599.2 194.5 L599.9 194.5 L600.6 194.6 L601.3 194.3 L602.0 193.7 L602.7 192.8 L603.4 192.5 L604.1 193.0 L604.8 194.0 L605.5 194.4 L606.2 193.8 L606.9 192.1 L607.6 191.5 L608.3 191.5 L609.0 191.3 L609.7 190.9 L610.4 190.7 L611.1 190.4 L611.8 189.1 L612.5 188.9 L613.2 189.0 L613.9 189.0 L614.6 188.0 L615.3 187.9 L616.0 188.7 L616.7 189.6 L617.4 190.6 L618.1 191.0 L618.8 190.9 L619.5 190.5 L620.2 190.4 L620.9 189.8 L621.6 189.2 L622.3 189.4 L623.0 189.9 L623.7 190.0 L624.4 189.8 L625.1 190.8 L625.8 191.0 L626.5 190.8 L627.2 189.7 L627.9 189.9 L628.6 190.3 L629.3 190.0 L630.0 189.3 L630.7 188.4 L631.4 188.0 L632.1 188.3 L632.8 188.7 L633.5 188.2 L634.2 186.5 L634.9 185.6 L635.6 185.0 L636.3 184.5 L637.0 184.5 L637.7 185.1 L638.4 185.7 L639.1 185.6 L639.8 184.8 L640.5 184.7 L641.2 184.1 L641.9 184.2 L642.6 183.8 L643.3 184.1 L644.0 184.5 L644.7 184.4 L645.4 183.6 L646.1 182.5 L646.8 182.2 L647.5 182.0 L648.2 181.7 L648.9 181.4 L649.6 182.0 L650.3 182.4 L651.0 182.1 L651.7 181.8 L652.4 181.7 L653.1 181.8" stroke="#10ee20" class="crv"/>
<path d="M75.6 292.5 L76.3 292.6 L77.0 292.3 L77.7 292.3 L78.4 292.4 L79.1 292.7 L79.8 292.8 L80.5 292.8 L81.2 292.5 L81.9 292.1 L82.6 291.9 L83.3 291.9 L84.0 291.9 L84.7 291.7 L85.4 291.5 L86.1 291.3 L86.8 291.1 L87.5 291.2 L88.2 291.3 L88.9 291.2 L89.6 291.1 L90.3 291.4 L91.0 291.6 L91.7 291.5 L92.4 291.2 L93.1 291.3 L93.8 291.5 L94.5 291.5 L95.2 291.4 L95.9 291.6 L96.6 291.9 L97.3 291.9 L98.0 291.7 L98.7 291.4 L99.4 291.2 L100.1 291.1 L100.8 291.1 L101.5 291.4 L102.2 291.6 L102.9 291.4 L103.6 291.3 L104.3 291.3 L105.0 291.3 L105.7 291.2 L106.4 291.4 L107.1 291.6 L107.8 291.8 L108.5 291.8 L109.2 291.9 L109.9 292.2 L110.6 292.7 L111.3 293.0 L112.0 293.1 L112.7 293.2 L113.4 293.0 L114.1 292.9 L114.8 292.7 L115.5 292.6 L116.2 292.4 L116.9 292.7 L117.6 293.1 L118.3 293.4 L119.0 293.7 L119.7 293.8 L120.4 294.0 L121.1 294.1 L121.8 294.4 L122.5 294.6 L123.2 295.1 L123.9 295.4 L124.6 295.7 L125.3 295.7 L126.0 296.2 L126.7 296.5 L127.4 296.7 L128.1 296.9 L128.8 297.1 L129.5 297.1 L130.2 296.8 L130.9 296.5 L131.6 296.3 L132.3 296.0 L133.0 295.8 L133.7 295.5 L134.4 295.6 L135.1 295.8 L135.8 295.7 L136.5 295.3 L137.2 295.1 L137.9 295.3 L138.6 295.6 L139.3 295.6 L140.0 295.8 L140.7 295.9 L141.4 296.0 L142.1 296.1 L142.8 296.2 L143.5 296.1 L144.2 296.4 L144.9 296.7 L145.6 296.6 L146.3 296.4 L147.0 296.5 L147.7 296.8 L148.4 296.9 L149.1 296.8 L149.8 296.6 L150.5 296.7 L151.2 296.9 L151.9 297.0 L152.6 296.9 L153.3 296.9 L154.0 297.1 L154.7 297.1 L155.4 297.2 L156.1 297.3 L156.8 297.5 L157.5 297.4 L158.2 297.5 L158.9 297.5 L159.6 297.6 L160.3 297.5 L161.0 297.4 L161.7 297.4 L162.4 297.7 L163.1 298.0 L163.8 298.1 L164.5 298.1 L165.2 298.1 L165.9 298.2 L166.6 298.5 L167.3 298.9 L168.0 298.9 L168.7 298.8 L169.4 298.7 L170.1 298.7 L170.8 298.6 L171.5 298.6 L172.2 298.4 L172.9 298.1 L173.6 298.2 L174.3 298.3 L175.0 298.5 L175.7 298.4 L176.4 298.3 L177.1 298.2 L177.8 298.1 L178.5 298.0 L179.2 297.9 L179.9 297.8 L180.6 297.7 L181.3 297.6 L182.0 297.7 L182.7 297.7 L183.4 298.0 L184.1 298.0 L184.8 298.0 L185.5 298.0 L186.2 298.3 L186.9 298.3 L187.6 298.3 L188.3 298.2 L189.0 298.1 L189.7 298.4 L190.4 298.5 L191.1 298.4 L191.8 298.2 L192.5 298.2 L193.2 298.3 L193.9 298.3 L194.6 298.4 L195.3 298.3 L196.0 298.1 L196.7 298.1 L197.4 297.8 L198.1 297.5 L198.8 297.3 L199.5 297.4 L200.2 297.4 L200.9 297.4 L201.6 297.2 L202.3 296.8 L203.0 296.3 L203.7 296.1 L204.4 296.0 L205.1 296.1 L205.8 296.4 L206.5 296.7 L207.2 296.9 L207.9 296.8 L208.6 296.7 L209.3 296.8 L210.0 296.9 L210.7 297.0 L211.4 296.9 L212.1 297.0 L212.8 297.0 L213.5 297.0 L214.2 296.6 L214.9 296.4 L215.6 296.3 L216.3 296.3 L217.0 296.3 L217.7 296.4 L218.4 296.5 L219.1 296.6 L219.8 296.5 L220.5 296.3 L221.2 296.2 L221.9 296.1 L222.6 296.2 L223.3 296.2 L224.0 296.4 L224.7 296.2 L225.4 296.2 L226.1 296.1 L226.8 296.1 L227.5 295.9 L228.2 295.7 L228.9 295.5 L229.6 295.3 L230.3 295.1 L231.0 295.2 L231.7 295.2 L232.4 295.2 L233.1 294.7 L233.8 294.5 L234.5 294.6 L235.2 295.0 L235.9 295.2 L236.6 295.3 L237.3 295.4 L238.0 295.4 L238.7 295.7 L239.4 296.0 L240.1 295.8 L240.8 295.3 L241.5 295.2 L242.2 294.9 L242.9 294.8 L243.6 295.0 L244.3 295.2 L245.0 295.2 L245.7 295.1 L246.4 295.3 L247.1 295.5 L247.8 295.7 L248.5 295.8 L249.2 295.8 L249.9 295.9 L250.6 295.7 L251.3 295.6 L252.0 295.6 L252.7 295.9 L253.4 295.9 L254.1 295.8 L254.8 295.8 L255.5 296.1 L256.2 296.4 L256.9 296.4 L257.6 296.2 L258.3 296.2 L259.0 296.2 L259.7 296.1 L260.4 296.3 L261.1 296.1 L261.8 296.1 L262.5 296.0 L263.2 296.0 L263.9 296.0 L264.6 296.0 L265.3 296.3 L266.0 296.3 L266.7 296.4 L267.4 296.3 L268.1 296.4 L268.8 296.1 L269.5 296.1 L270.2 296.0 L270.9 296.2 L271.6 296.3 L272.3 296.4 L273.0 296.2 L273.7 296.3 L274.4 296.4 L275.1 296.4 L275.8 296.1 L276.5 295.8 L277.2 295.9 L277.9 296.0 L278.6 295.8 L279.3 295.1 L280.0 294.4 L280.7 293.9 L281.4 293.3 L282.1 293.0 L282.8 292.6 L283.5 292.4 L284.2 292.1 L284.9 291.6 L285.6 290.9 L286.3 290.3 L287.0 290.1 L287.7 289.8 L288.4 289.0 L289.1 288.1 L289.8 287.6 L290.5 287.0 L291.2 286.6 L291.9 287.0 L292.6 287.5 L293.3 287.6 L294.0 288.1 L294.7 288.6 L295.4 289.0 L296.1 289.5 L296.8 290.0 L297.5 290.4 L298.2 290.5 L298.9 291.0 L299.6 291.4 L300.3 291.7 L301.0 291.8 L301.7 291.8 L302.4 291.6 L303.1 291.6 L303.8 292.1 L304.5 292.5 L305.2 292.7 L305.9 292.9 L306.6 292.8 L307.3 292.8 L308.0 293.1 L308.7 293.8 L309.4 294.0 L310.1 294.2 L310.8 294.8 L311.5 295.5 L312.2 295.7 L312.9 296.0 L313.6 295.9 L314.3 296.3 L315.0 296.8 L315.7 297.4 L316.4 297.2 L317.1 296.9 L317.8 296.3 L318.5 296.2 L319.2 296.2 L319.9 296.2 L320.6 296.0 L321.3 295.9 L322.0 295.6 L322.7 295.1 L323.4 294.6 L324.1 293.8 L324.8 293.4 L325.5 293.2 L326.2 293.4 L326.9 293.4 L327.6 293.5 L328.3 293.3 L329.0 293.1 L329.7 292.9 L330.4 292.9 L331.1 292.9 L331.8 292.7 L332.5 293.0 L333.2 293.1 L333.9 293.3 L334.6 293.4 L335.3 293.6 L336.0 293.6 L336.7 293.6 L337.4 293.6 L338.1 294.0 L338.8 294.3 L339.5 294.5 L340.2 294.5 L340.9 294.5 L341.6 294.9 L342.3 295.2 L343.0 295.3 L343.7 295.3 L344.4 295.4 L345.1 295.5 L345.8 295.8 L346.5 295.9 L347.2 296.1 L347.9 296.4 L348.6 296.7 L349.3 296.7 L350.0 296.9 L350.7 297.3 L351.4 297.3 L352.1 297.2 L352.8 297.0 L353.5 296.4 L354.2 296.4 L354.9 297.0 L355.6 297.7 L356.3 298.6 L357.0 299.2 L357.7 299.1 L358.4 298.6 L359.1 298.4 L359.8 298.0 L360.5 297.4 L361.2 296.6 L361.9 296.3 L362.6 296.2 L363.3 296.3 L364.0 296.4 L364.7 296.4 L365.4 296.4 L366.1 296.3 L366.8 296.3 L367.5 296.3 L368.2 296.4 L368.9 296.6 L369.6 296.8 L370.3 296.9 L371.0 297.0 L371.7 297.4 L372.4 297.8 L373.1 297.8 L373.8 297.8 L374.5 297.9 L375.2 297.6 L375.9 297.3 L376.6 297.0 L377.3 296.8 L378.0 296.7 L378.7 296.7 L379.4 296.9 L380.1 296.8 L380.8 296.8 L381.5 297.1 L382.2 297.7 L382.9 298.2 L383.6 298.3 L384.3 298.5 L385.0 298.7 L385.7 298.8 L386.4 298.7 L387.1 298.4 L387.8 298.3 L388.5 298.0 L389.2 297.9 L389.9 297.7 L390.6 297.4 L391.3 296.9 L392.0 296.4 L392.7 295.8 L393.4 295.2 L394.1 294.6 L394.8 294.1 L395.5 293.7 L396.2 293.4 L396.9 293.1 L397.6 293.2 L398.3 293.1 L399.0 292.8 L399.7 292.6 L400.4 292.7 L401.1 293.0 L401.8 293.4 L402.5 293.5 L403.2 293.5 L403.9 293.4 L404.6 293.5 L405.3 293.5 L406.0 293.6 L406.7 293.8 L407.4 294.1 L408.1 294.3 L408.8 294.3 L409.5 294.2 L410.2 294.2 L410.9 294.2 L411.6 294.5 L412.3 294.7 L413.0 294.9 L413.7 294.9 L414.4 294.7 L415.1 294.8 L415.8 295.2 L416.5 295.4 L417.2 295.3 L417.9 295.5 L418.6 295.7 L419.3 296.0 L420.0 296.2 L420.7 296.4 L421.4 296.5 L422.1 296.9 L422.8 297.1 L423.5 297.1 L424.2 296.9 L424.9 297.1 L425.6 297.1 L426.3 297.2 L427.0 297.0 L427.7 297.1 L428.4 297.1 L429.1 296.9 L429.8 296.6 L430.5 296.4 L431.2 296.1 L431.9 295.8 L432.6 295.7 L433.3 295.5 L434.0 295.5 L434.7 295.5 L435.4 295.6 L436.1 295.4 L436.8 295.2 L437.5 294.7 L438.2 294.6 L438.9 294.7 L439.6 295.0 L440.3 294.9 L441.0 295.0 L441.7 294.9 L442.4 294.7 L443.1 295.0 L443.8 295.8 L444.5 296.5 L445.2 296.6 L445.9 296.8 L446.6 297.2 L447.3 297.8 L448.0 297.4 L448.7 296.7 L449.4 296.1 L450.1 295.8 L450.8 295.6 L451.5 295.4 L452.2 294.8 L452.9 294.0 L453.6 293.3 L454.3 292.9 L455.0 292.7 L455.7 292.6 L456.4 292.5 L457.1 292.4 L457.8 292.2 L458.5 291.9 L459.2 291.4 L459.9 291.1 L460.6 291.0 L461.3 290.8 L462.0 290.7 L462.7 290.9 L463.4 291.1 L464.1 290.9 L464.8 290.7 L465.5 290.6 L466.2 290.9 L466.9 290.8 L467.6 290.6 L468.3 290.3 L469.0 290.4 L469.7 290.2 L470.4 290.0 L471.1 289.7 L471.8 289.9 L472.5 290.2 L473.2 290.5 L473.9 290.5 L474.6 290.6 L475.3 291.0 L476.0 291.6 L476.7 292.1 L477.4 292.2 L478.1 292.3 L478.8 292.5 L479.5 293.1 L480.2 293.4 L480.9 293.7 L481.6 294.1 L482.3 294.6 L483.0 294.7 L483.7 294.8 L484.4 294.8 L485.1 295.0 L485.8 295.1 L486.5 295.6 L487.2 296.2 L487.9 296.5 L488.6 296.4 L489.3 296.2 L490.0 296.1 L490.7 296.0 L491.4 295.8 L492.1 296.1 L492.8 296.1 L493.5 296.0 L494.2 295.3 L494.9 294.9 L495.6 294.6 L496.3 294.6 L497.0 294.5 L497.7 294.4 L498.4 294.4 L499.1 294.5 L499.8 294.8 L500.5 294.8 L501.2 294.8 L501.9 295.0 L502.6 295.3 L503.3 295.6 L504.0 295.7 L504.7 295.9 L505.4 296.1 L506.1 296.2 L506.8 296.1 L507.5 296.0 L508.2 296.1 L508.9 296.0 L509.6 295.7 L510.3 295.6 L511.0 295.7 L511.7 296.0 L512.4 296.3 L513.1 296.4 L513.8 296.5 L514.5 296.5 L515.2 296.8 L515.9 297.0 L516.6 297.3 L517.3 297.2 L518.0 297.3 L518.7 297.3 L519.4 297.7 L520.1 298.0 L520.8 298.1 L521.5 297.9 L522.2 297.9 L522.9 298.2 L523.6 298.6 L524.3 298.7 L525.0 298.5 L525.7 298.5 L526.4 298.7 L527.1 298.7 L527.8 298.8 L528.5 299.2 L529.2 299.1 L529.9 298.8 L530.6 298.7 L531.3 298.8 L532.0 298.5 L532.7 298.4 L533.4 298.3 L534.1 298.0 L534.8 297.6 L535.5 297.2 L536.2 297.1 L536.9 296.8 L537.6 296.7 L538.3 296.4 L539.0 296.4 L539.7 296.3 L540.4 296.2 L541.1 296.0 L541.8 295.9 L542.5 295.6 L543.2 295.4 L543.9 295.1 L544.6 295.0 L545.3 294.7 L546.0 294.7 L546.7 294.4 L547.4 294.4 L548.1 294.2 L548.8 294.4 L549.5 294.3 L550.2 294.4 L550.9 294.4 L551.6 294.4 L552.3 294.2 L553.0 294.6 L553.7 295.1 L554.4 295.5 L555.1 295.9 L555.8 296.2 L556.5 296.4 L557.2 296.4 L557.9 296.7 L558.6 297.2 L559.3 297.7 L560.0 297.7 L560.7 297.7 L561.4 298.2 L562.1 298.8 L562.8 298.7 L563.5 298.3 L564.2 298.4 L564.9 298.3 L565.6 298.1 L566.3 297.8 L567.0 297.7 L567.7 297.8 L568.4 297.9 L569.1 297.9 L569.8 297.7 L570.5 297.6 L571.2 297.5 L571.9 297.4 L572.6 297.4 L573.3 297.4 L574.0 297.3 L574.7 297.1 L575.4 297.0 L576.1 297.0 L576.8 297.0 L577.5 296.9 L578.2 296.8 L578.9 296.8 L579.6 297.0 L580.3 297.1 L581.0 297.2 L581.7 297.3 L582.4 297.4 L583.1 297.1 L583.8 297.2 L584.5 297.3 L585.2 297.4 L585.9 297.5 L586.6 297.6 L587.3 297.5 L588.0 297.4 L588.7 297.6 L589.4 297.9 L590.1 298.1 L590.8 298.3 L591.5 298.2 L592.2 298.3 L592.9 298.3 L593.6 298.6 L594.3 298.9 L595.0 298.8 L595.7 298.6 L596.4 298.9 L597.1 299.2 L597.8 299.2 L598.5 299.0 L599.2 299.0 L599.9 299.1 L600.6 299.2 L601.3 299.2 L602.0 299.0 L602.7 298.8 L603.4 298.8 L604.1 298.9 L604.8 299.1 L605.5 299.3 L606.2 299.4 L606.9 299.4 L607.6 299.3 L608.3 298.8 L609.0 298.7 L609.7 298.6 L610.4 298.4 L611.1 297.8 L611.8 297.6 L612.5 297.7 L613.2 297.9 L613.9 297.8 L614.6 298.0 L615.3 298.5 L616.0 298.7 L616.7 298.8 L617.4 299.0 L618.1 299.0 L618.8 299.1 L619.5 299.0 L620.2 299.0 L620.9 299.1 L621.6 299.6 L622.3 299.8 L623.0 299.9 L623.7 299.4 L624.4 299.2 L625.1 299.1 L625.8 299.0 L626.5 298.9 L627.2 298.8 L627.9 298.5 L628.6 298.4 L629.3 298.3 L630.0 298.3 L630.7 298.2 L631.4 298.1 L632.1 298.2 L632.8 298.0 L633.5 297.8 L634.2 297.9 L634.9 297.9 L635.6 297.7 L636.3 297.3 L637.0 296.9 L637.7 296.7 L638.4 296.4 L639.1 296.3 L639.8 295.9 L640.5 295.4 L641.2 295.1 L641.9 295.3 L642.6 295.5 L643.3 295.5 L644.0 295.5 L644.7 295.6 L645.4 295.6 L646.1 295.4 L646.8 295.4 L647.5 295.2 L648.2 295.0 L648.9 295.1 L649.6 295.2 L650.3 294.8 L651.0 294.2 L651.7 294.1 L652.4 294.3 L653.1 294.4" stroke="#0000ff" class="crv"/>
<path d="M75.6 382.9 L76.3 382.5 L77.0 382.5 L77.7 382.3 L78.4 381.9 L79.1 381.3 L79.8 381.9 L80.5 383.0 L81.2 383.3 L81.9 383.6 L82.6 384.3 L83.3 385.3 L84.0 385.8 L84.7 386.1 L85.4 386.4 L86.1 386.4 L86.8 387.3 L87.5 387.9 L88.2 388.2 L88.9 387.5 L89.6 387.4 L90.3 387.7 L91.0 387.8 L91.7 388.5 L92.4 389.1 L93.1 389.9 L93.8 389.2 L94.5 389.4 L95.2 388.9 L95.9 388.9 L96.6 388.8 L97.3 389.4 L98.0 388.9 L98.7 388.2 L99.4 388.6 L100.1 390.1 L100.8 390.9 L101.5 390.5 L102.2 390.2 L102.9 389.9 L103.6 390.2 L104.3 389.9 L105.0 390.3 L105.7 390.5 L106.4 391.4 L107.1 391.5 L107.8 391.9 L108.5 391.9 L109.2 392.2 L109.9 392.3 L110.6 392.0 L111.3 391.6 L112.0 391.6 L112.7 391.9 L113.4 391.9 L114.1 391.5 L114.8 391.7 L115.5 392.0 L116.2 392.6 L116.9 393.1 L117.6 393.4 L118.3 393.4 L119.0 392.7 L119.7 392.9 L120.4 393.0 L121.1 393.7 L121.8 394.1 L122.5 394.7 L123.2 395.4 L123.9 396.6 L124.6 397.1 L125.3 397.3 L126.0 397.5 L126.7 397.4 L127.4 396.7 L128.1 396.0 L128.8 395.4 L129.5 395.5 L130.2 396.1 L130.9 395.9 L131.6 395.8 L132.3 395.6 L133.0 396.0 L133.7 396.4 L134.4 398.0 L135.1 398.4 L135.8 398.0 L136.5 397.6 L137.2 397.9 L137.9 398.3 L138.6 398.1 L139.3 398.3 L140.0 398.1 L140.7 398.3 L141.4 398.5 L142.1 398.4 L142.8 398.0 L143.5 397.2 L144.2 397.1 L144.9 397.1 L145.6 397.3 L146.3 397.1 L147.0 396.5 L147.7 396.4 L148.4 396.2 L149.1 395.9 L149.8 395.2 L150.5 395.1 L151.2 395.0 L151.9 395.5 L152.6 395.7 L153.3 395.0 L154.0 393.9 L154.7 393.3 L155.4 393.8 L156.1 394.4 L156.8 394.5 L157.5 394.1 L158.2 393.6 L158.9 393.6 L159.6 393.8 L160.3 393.7 L161.0 392.9 L161.7 392.7 L162.4 393.2 L163.1 393.9 L163.8 394.1 L164.5 393.9 L165.2 393.1 L165.9 392.9 L166.6 393.0 L167.3 392.8 L168.0 391.8 L168.7 391.9 L169.4 392.3 L170.1 392.3 L170.8 392.0 L171.5 391.5 L172.2 390.7 L172.9 389.9 L173.6 389.6 L174.3 389.6 L175.0 389.4 L175.7 389.4 L176.4 388.9 L177.1 388.6 L177.8 388.3 L178.5 388.4 L179.2 388.5 L179.9 387.8 L180.6 386.8 L181.3 386.0 L182.0 386.0 L182.7 386.3 L183.4 386.2 L184.1 385.7 L184.8 385.0 L185.5 384.8 L186.2 384.5 L186.9 384.3 L187.6 384.5 L188.3 384.2 L189.0 383.9 L189.7 383.7 L190.4 384.0 L191.1 384.3 L191.8 384.1 L192.5 384.4 L193.2 384.2 L193.9 384.7 L194.6 385.1 L195.3 386.2 L196.0 386.8 L196.7 387.0 L197.4 386.4 L198.1 386.5 L198.8 385.9 L199.5 385.3 L200.2 384.0 L200.9 383.7 L201.6 384.0 L202.3 384.0 L203.0 383.3 L203.7 382.7 L204.4 382.7 L205.1 382.5 L205.8 382.1 L206.5 382.4 L207.2 382.1 L207.9 381.8 L208.6 381.4 L209.3 382.3 L210.0 382.5 L210.7 382.1 L211.4 381.7 L212.1 381.6 L212.8 381.8 L213.5 381.6 L214.2 381.1 L214.9 380.6 L215.6 380.7 L216.3 381.3 L217.0 381.9 L217.7 381.7 L218.4 380.6 L219.1 379.5 L219.8 380.1 L220.5 380.7 L221.2 380.9 L221.9 380.8 L222.6 380.7 L223.3 380.1 L224.0 379.3 L224.7 378.9 L225.4 379.0 L226.1 379.5 L226.8 379.1 L227.5 378.7 L228.2 378.4 L228.9 378.7 L229.6 378.3 L230.3 377.8 L231.0 377.2 L231.7 376.7 L232.4 377.4 L233.1 378.4 L233.8 378.8 L234.5 377.7 L235.2 377.4 L235.9 377.6 L236.6 378.4 L237.3 378.9 L238.0 379.6 L238.7 379.2 L239.4 378.4 L240.1 378.0 L240.8 378.4 L241.5 378.7 L242.2 379.5 L242.9 380.1 L243.6 380.3 L244.3 379.8 L245.0 379.7 L245.7 380.3 L246.4 379.9 L247.1 379.4 L247.8 379.1 L248.5 379.4 L249.2 379.2 L249.9 379.6 L250.6 380.6 L251.3 381.1 L252.0 381.0 L252.7 380.2 L253.4 380.5 L254.1 380.8 L254.8 381.2 L255.5 381.5 L256.2 382.0 L256.9 382.0 L257.6 381.9 L258.3 382.3 L259.0 382.7 L259.7 383.0 L260.4 383.0 L261.1 383.1 L261.8 383.3 L262.5 383.3 L263.2 383.9 L263.9 384.3 L264.6 384.1 L265.3 383.7 L266.0 384.2 L266.7 385.0 L267.4 385.1 L268.1 385.3 L268.8 385.4 L269.5 385.7 L270.2 385.9 L270.9 386.6 L271.6 386.1 L272.3 385.1 L273.0 385.1 L273.7 385.2 L274.4 385.1 L275.1 385.2 L275.8 385.3 L276.5 384.2 L277.2 384.0 L277.9 384.7 L278.6 385.1 L279.3 384.9 L280.0 384.6 L280.7 384.6 L281.4 383.9 L282.1 383.8 L282.8 383.6 L283.5 384.0 L284.2 384.5 L284.9 384.8 L285.6 384.4 L286.3 383.9 L287.0 384.2 L287.7 384.5 L288.4 384.2 L289.1 383.8 L289.8 383.5 L290.5 382.6 L291.2 380.9 L291.9 379.0 L292.6 377.6 L293.3 377.1 L294.0 376.4 L294.7 375.8 L295.4 375.5 L296.1 376.3 L296.8 376.3 L297.5 377.0 L298.2 377.2 L298.9 377.5 L299.6 377.6 L300.3 378.1 L301.0 378.2 L301.7 377.7 L302.4 377.7 L303.1 377.4 L303.8 377.6 L304.5 378.0 L305.2 378.5 L305.9 379.1 L306.6 379.8 L307.3 379.9 L308.0 380.0 L308.7 380.2 L309.4 381.2 L310.1 381.2 L310.8 381.6 L311.5 382.0 L312.2 383.6 L312.9 384.0 L313.6 384.1 L314.3 384.1 L315.0 385.5 L315.7 386.2 L316.4 386.7 L317.1 387.3 L317.8 388.1 L318.5 388.2 L319.2 387.9 L319.9 388.0 L320.6 388.6 L321.3 388.8 L322.0 388.8 L322.7 389.0 L323.4 389.2 L324.1 389.0 L324.8 388.9 L325.5 389.3 L326.2 389.1 L326.9 388.8 L327.6 389.1 L328.3 390.0 L329.0 390.0 L329.7 389.8 L330.4 390.6 L331.1 391.1 L331.8 390.7 L332.5 389.5 L333.2 389.6 L333.9 389.2 L334.6 388.5 L335.3 387.8 L336.0 387.6 L336.7 386.6 L337.4 385.7 L338.1 385.5 L338.8 385.8 L339.5 385.8 L340.2 385.7 L340.9 385.0 L341.6 384.8 L342.3 385.0 L343.0 384.8 L343.7 384.4 L344.4 384.7 L345.1 384.9 L345.8 383.8 L346.5 382.9 L347.2 382.5 L347.9 382.8 L348.6 382.0 L349.3 381.9 L350.0 382.0 L350.7 382.5 L351.4 382.1 L352.1 381.5 L352.8 380.0 L353.5 377.8 L354.2 375.1 L354.9 372.3 L355.6 370.0 L356.3 370.4 L357.0 370.9 L357.7 370.7 L358.4 370.4 L359.1 370.7 L359.8 371.7 L360.5 372.7 L361.2 372.7 L361.9 372.7 L362.6 372.7 L363.3 374.1 L364.0 375.1 L364.7 375.9 L365.4 376.1 L366.1 376.1 L366.8 375.8 L367.5 374.9 L368.2 374.4 L368.9 373.5 L369.6 373.0 L370.3 373.4 L371.0 373.0 L371.7 372.3 L372.4 372.1 L373.1 372.8 L373.8 372.5 L374.5 372.0 L375.2 371.9 L375.9 373.0 L376.6 373.3 L377.3 373.0 L378.0 372.4 L378.7 371.1 L379.4 369.6 L380.1 368.1 L380.8 366.5 L381.5 365.5 L382.2 365.4 L382.9 365.3 L383.6 365.2 L384.3 364.8 L385.0 364.7 L385.7 364.9 L386.4 365.6 L387.1 365.9 L387.8 366.4 L388.5 366.2 L389.2 366.3 L389.9 366.6 L390.6 367.3 L391.3 367.8 L392.0 368.3 L392.7 369.0 L393.4 370.4 L394.1 371.0 L394.8 371.5 L395.5 370.9 L396.2 370.9 L396.9 370.5 L397.6 370.9 L398.3 371.6 L399.0 372.6 L399.7 372.9 L400.4 372.5 L401.1 372.0 L401.8 372.1 L402.5 372.9 L403.2 373.1 L403.9 373.2 L404.6 373.2 L405.3 374.4 L406.0 374.8 L406.7 375.0 L407.4 374.6 L408.1 374.4 L408.8 374.6 L409.5 375.4 L410.2 375.4 L410.9 374.2 L411.6 373.5 L412.3 374.0 L413.0 374.7 L413.7 374.7 L414.4 374.6 L415.1 375.2 L415.8 375.3 L416.5 374.9 L417.2 374.4 L417.9 374.2 L418.6 373.5 L419.3 372.6 L420.0 370.7 L420.7 369.9 L421.4 369.3 L422.1 368.8 L422.8 368.0 L423.5 367.8 L424.2 366.8 L424.9 366.0 L425.6 365.6 L426.3 366.3 L427.0 366.4 L427.7 365.7 L428.4 365.0 L429.1 365.1 L429.8 365.5 L430.5 365.9 L431.2 366.6 L431.9 367.1 L432.6 367.7 L433.3 367.7 L434.0 367.6 L434.7 366.8 L435.4 366.9 L436.1 367.4 L436.8 367.5 L437.5 366.6 L438.2 366.1 L438.9 366.5 L439.6 366.9 L440.3 367.2 L441.0 367.7 L441.7 368.6 L442.4 369.1 L443.1 369.2 L443.8 368.8 L444.5 368.6 L445.2 368.7 L445.9 369.9 L446.6 370.6 L447.3 371.0 L448.0 371.6 L448.7 372.7 L449.4 373.5 L450.1 373.8 L450.8 374.4 L451.5 374.2 L452.2 373.8 L452.9 374.3 L453.6 375.2 L454.3 375.6 L455.0 375.2 L455.7 375.9 L456.4 376.8 L457.1 377.5 L457.8 377.4 L458.5 377.7 L459.2 378.0 L459.9 378.7 L460.6 379.3 L461.3 379.9 L462.0 379.9 L462.7 380.3 L463.4 380.7 L464.1 381.5 L464.8 382.2 L465.5 382.5 L466.2 382.5 L466.9 382.5 L467.6 383.3 L468.3 382.8 L469.0 382.8 L469.7 381.9 L470.4 381.7 L471.1 381.3 L471.8 381.7 L472.5 381.5 L473.2 381.0 L473.9 380.5 L474.6 380.3 L475.3 380.7 L476.0 381.2 L476.7 382.1 L477.4 382.2 L478.1 381.5 L478.8 380.7 L479.5 380.5 L480.2 380.1 L480.9 378.5 L481.6 376.5 L482.3 375.8 L483.0 376.6 L483.7 377.1 L484.4 377.1 L485.1 376.8 L485.8 377.3 L486.5 377.6 L487.2 377.1 L487.9 376.9 L488.6 377.5 L489.3 377.5 L490.0 377.0 L490.7 377.6 L491.4 378.7 L492.1 379.1 L492.8 377.7 L493.5 376.8 L494.2 376.3 L494.9 376.8 L495.6 376.9 L496.3 376.4 L497.0 376.4 L497.7 377.4 L498.4 378.3 L499.1 377.6 L499.8 376.4 L500.5 375.7 L501.2 375.7 L501.9 376.1 L502.6 375.5 L503.3 374.5 L504.0 374.0 L504.7 374.3 L505.4 374.3 L506.1 373.9 L506.8 374.0 L507.5 374.2 L508.2 374.6 L508.9 375.0 L509.6 375.1 L510.3 374.8 L511.0 374.7 L511.7 374.6 L512.4 374.7 L513.1 374.1 L513.8 373.8 L514.5 374.0 L515.2 374.7 L515.9 375.2 L516.6 374.7 L517.3 374.3 L518.0 374.1 L518.7 374.6 L519.4 374.8 L520.1 375.3 L520.8 375.5 L521.5 375.4 L522.2 375.3 L522.9 375.7 L523.6 375.7 L524.3 375.7 L525.0 375.6 L525.7 375.2 L526.4 374.1 L527.1 374.3 L527.8 374.4 L528.5 374.7 L529.2 374.3 L529.9 375.0 L530.6 375.5 L531.3 375.0 L532.0 374.2 L532.7 373.9 L533.4 374.2 L534.1 374.7 L534.8 375.0 L535.5 375.3 L536.2 375.4 L536.9 376.2 L537.6 376.1 L538.3 376.3 L539.0 376.3 L539.7 376.9 L540.4 376.7 L541.1 376.8 L541.8 376.9 L542.5 377.2 L543.2 376.8 L543.9 376.9 L544.6 377.2 L545.3 377.7 L546.0 378.5 L546.7 378.8 L547.4 378.1 L548.1 377.8 L548.8 378.1 L549.5 378.7 L550.2 379.1 L550.9 379.4 L551.6 379.1 L552.3 378.7 L553.0 378.2 L553.7 378.1 L554.4 378.3 L555.1 378.3 L555.8 378.8 L556.5 379.2 L557.2 379.1 L557.9 377.9 L558.6 377.9 L559.3 378.4 L560.0 378.2 L560.7 377.2 L561.4 377.8 L562.1 379.1 L562.8 379.9 L563.5 380.1 L564.2 380.1 L564.9 380.3 L565.6 379.4 L566.3 378.4 L567.0 377.6 L567.7 377.8 L568.4 377.6 L569.1 377.7 L569.8 378.1 L570.5 377.9 L571.2 377.6 L571.9 376.8 L572.6 376.2 L573.3 376.1 L574.0 376.4 L574.7 376.6 L575.4 376.7 L576.1 376.5 L576.8 376.2 L577.5 376.4 L578.2 376.6 L578.9 376.4 L579.6 376.4 L580.3 377.0 L581.0 377.1 L581.7 377.2 L582.4 377.2 L583.1 377.3 L583.8 377.2 L584.5 376.8 L585.2 376.6 L585.9 376.6 L586.6 377.3 L587.3 377.6 L588.0 377.9 L588.7 377.7 L589.4 377.9 L590.1 377.8 L590.8 377.8 L591.5 377.7 L592.2 377.8 L592.9 377.5 L593.6 378.4 L594.3 378.9 L595.0 378.7 L595.7 377.7 L596.4 377.6 L597.1 377.8 L597.8 377.9 L598.5 378.0 L599.2 378.3 L599.9 377.2 L600.6 376.7 L601.3 376.6 L602.0 377.5 L602.7 377.1 L603.4 376.5 L604.1 375.6 L604.8 375.7 L605.5 376.0 L606.2 375.6 L606.9 374.8 L607.6 374.7 L608.3 374.6 L609.0 374.3 L609.7 374.1 L610.4 374.1 L611.1 373.5 L611.8 373.7 L612.5 374.1 L613.2 374.5 L613.9 374.0 L614.6 373.8 L615.3 373.6 L616.0 373.8 L616.7 374.0 L617.4 374.6 L618.1 374.6 L618.8 374.4 L619.5 374.7 L620.2 374.7 L620.9 374.8 L621.6 374.6 L622.3 375.3 L623.0 375.3 L623.7 375.0 L624.4 374.8 L625.1 374.7 L625.8 374.6 L626.5 374.6 L627.2 375.0 L627.9 374.8 L628.6 374.9 L629.3 374.9 L630.0 375.5 L630.7 375.4 L631.4 375.3 L632.1 374.5 L632.8 373.6 L633.5 373.6 L634.2 374.3 L634.9 374.8 L635.6 374.5 L636.3 373.8 L637.0 373.5 L637.7 373.5 L638.4 374.3 L639.1 374.7 L639.8 375.0 L640.5 374.9 L641.2 375.0 L641.9 374.5 L642.6 374.3 L643.3 374.0 L644.0 374.5 L644.7 375.0 L645.4 375.0 L646.1 374.5 L646.8 374.0 L647.5 374.3 L648.2 374.9 L648.9 375.1 L649.6 374.9 L650.3 375.1 L651.0 375.1 L651.7 375.2 L652.4 375.9 L653.1 376.6" stroke="#ff0000" class="crv"/>
<text transform="translate(75.49,26.84) scale(1.0519,1.0754)" font-size="16" fill="#000">Kakioka (KAK)&#160;&#160;[KMO]</text>
<text transform="translate(364.80,26.74) scale(1.0000,1.0222)" font-size="12" fill="#000">GG ( 36.23<tspan font-size="7" dy="-4.5">o</tspan><tspan dy="4.5">, 140.19</tspan><tspan font-size="7" dy="-4.5">o</tspan><tspan dy="4.5">)</tspan></text>
<text transform="translate(569.54,27.06) scale(1.0097,0.9725)" font-size="17" fill="#000">2025/11/28</text>
<text transform="translate(45.88,121.80) scale(1.0240,1.0240)" font-size="18" fill="#ffb400">F</text>
<text transform="translate(21.65,139.94) scale(0.9915,1.0286)" font-size="12" fill="#ffb400">46940nT</text>
<text transform="translate(44.46,208.90) scale(1.0720,1.0720)" font-size="18" fill="#10ee20">H</text>
<text transform="translate(21.40,226.94) scale(0.9968,1.0286)" font-size="12" fill="#10ee20">30100nT</text>
<text transform="translate(44.05,295.90) scale(1.0880,1.0880)" font-size="18" fill="#0000ff">D</text>
<text transform="translate(28.60,313.89) scale(1.0076,1.0044)" font-size="12" fill="#0000ff">-8.0deg</text>
<text transform="translate(45.70,382.90) scale(1.0720,1.0720)" font-size="18" fill="#ff0000">Z</text>
<text transform="translate(21.40,400.75) scale(0.9968,0.9943)" font-size="12" fill="#ff0000">36010nT</text>
<text transform="translate(71.60,487.93) scale(1.0700,1.0700)" font-size="14" fill="#000">0</text>
<text transform="translate(143.30,487.93) scale(1.0700,1.0700)" font-size="14" fill="#000">3</text>
<text transform="translate(215.72,487.93) scale(1.0700,1.0700)" font-size="14" fill="#000">6</text>
<text transform="translate(288.65,487.93) scale(1.0700,1.0700)" font-size="14" fill="#000">9</text>
<text transform="translate(356.64,488.20) scale(1.0700,1.0700)" font-size="14" fill="#000">12</text>
<text transform="translate(428.74,487.93) scale(1.0700,1.0700)" font-size="14" fill="#000">15</text>
<text transform="translate(501.64,487.93) scale(1.0700,1.0700)" font-size="14" fill="#000">18</text>
<text transform="translate(572.42,488.20) scale(1.0700,1.0700)" font-size="14" fill="#000">21</text>
<text transform="translate(645.54,487.60) scale(1.0700,1.0700)" font-size="14" fill="#000">24</text>
<text transform="translate(331.65,503.50) scale(1.0504,1.0340)" font-size="14" fill="#000">U T (hour)</text>
<text transform="translate(683.23,444.22) rotate(-90) scale(0.9644,1.0629)" font-size="12" fill="#000">100 nT</text>
<text transform="translate(693.02,446.31) rotate(-90) scale(1.0142,1.0311)" font-size="12" fill="#000">0.5 deg</text>
<text transform="translate(715.17,469.21) rotate(-90) scale(0.9449,0.9200)" font-size="10" fill="#000">Plotted at 2025/12/06 00:21 UT</text>
</svg></body></html>
